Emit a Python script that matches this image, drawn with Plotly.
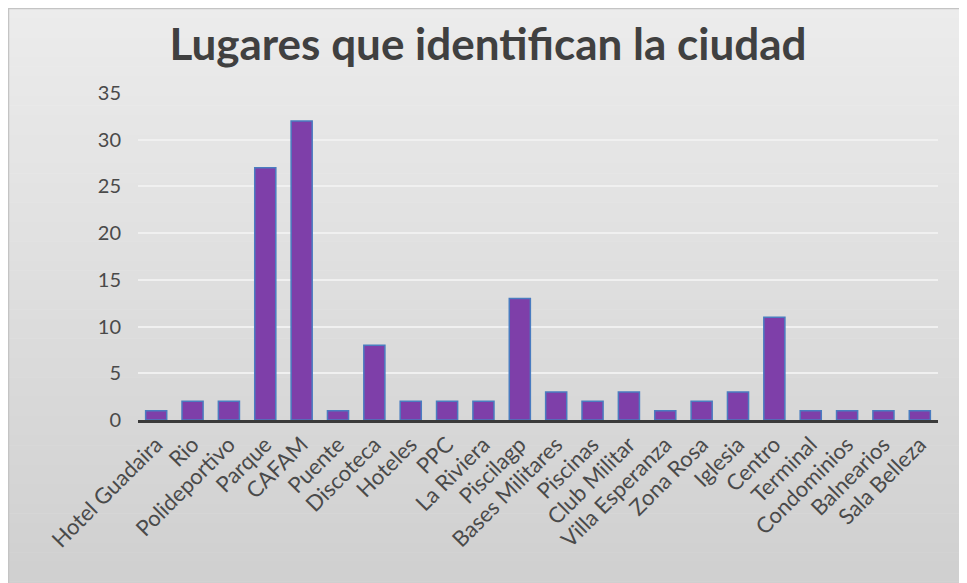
import plotly.graph_objects as go

categories = ["Hotel Guadaira", "Rio", "Polideportivo", "Parque", "CAFAM", "Puente",
              "Discoteca", "Hoteles", "PPC", "La Riviera", "Piscilagp", "Bases Militares",
              "Piscinas", "Club Militar", "Villa Esperanza", "Zona Rosa", "Iglesia", "Centro",
              "Terminal", "Condominios", "Balnearios", "Sala Belleza"]
values = [1, 2, 2, 27, 32, 1, 8, 2, 2, 2, 13, 3, 2, 3, 1, 2, 3, 11, 1, 1, 1, 1]
y_ticks = [0, 5, 10, 15, 20, 25, 30, 35]
title_text = "Lugares que identifican la ciudad"

# page body has an 8px margin, so figure coords = screen coords - 8
W, H = 967, 583
L, R, T, B = 130, 37, 85, 171
pw, ph = W - L - R, H - T - B

def px_to_paper_x(px):
    return (px - L) / pw

def px_to_paper_y(py):
    return (H - B - py) / ph

fig = go.Figure(go.Bar(
    x=categories, y=values,
    marker=dict(color="#7e3fa9", line=dict(color="#4a7cc0", width=1.5)),
))

# gradient background strips
shapes = []
n = 60
top_px, bot_px = 0, H
c_top = (236, 236, 236)
c_bot = (207, 207, 207)
for i in range(n):
    y0p = top_px + (bot_px - top_px) * i / n
    y1p = top_px + (bot_px - top_px) * (i + 1) / n
    t = (i + 0.5) / n
    c = tuple(int(round(c_top[k] + (c_bot[k] - c_top[k]) * t)) for k in range(3))
    shapes.append(dict(type="rect", xref="paper", yref="paper",
                       x0=px_to_paper_x(-2), x1=px_to_paper_x(W + 2),
                       y0=px_to_paper_y(y1p + 0.5), y1=px_to_paper_y(y0p),
                       fillcolor="rgb(%d,%d,%d)" % c, line=dict(width=0), layer="below"))
shapes.append(dict(type="rect", xref="paper", yref="paper",
                   x0=px_to_paper_x(0.5), x1=px_to_paper_x(W + 5),
                   y0=px_to_paper_y(H + 5), y1=px_to_paper_y(0.5),
                   fillcolor="rgba(0,0,0,0)", line=dict(color="#c4c4c4", width=1.5), layer="below"))

fig.update_layout(
    width=W, height=H,
    margin=dict(l=L, r=R, t=T, b=B),
    paper_bgcolor="white",
    plot_bgcolor="rgba(0,0,0,0)",
    bargap=0.42,
    showlegend=False,
    shapes=shapes,
    title=dict(text="<b>" + title_text + "</b>", x=px_to_paper_x(480), xref="paper",
               y=1 - 37 / H, yanchor="middle",
               xanchor="center", font=dict(family="Lato", size=44, color="#404040")),
    font=dict(family="Lato", color="#595959"),
)
fig.update_xaxes(
    tickangle=-45, tickfont=dict(family="Lato", size=22, color="#4a4a4a"),
    showline=True, linecolor="#3a3a3a", linewidth=3, ticks="", showgrid=False,
)
fig.update_yaxes(
    range=[0, 35], tickvals=y_ticks, ticktext=[str(v) for v in y_ticks],
    tickfont=dict(family="Lato", size=20, color="#4a4a4a"),
    showgrid=True, gridcolor="#f0f0f0", gridwidth=1.5, zeroline=False, showline=False,
    ticklabelstandoff=16,
)

fig.write_html("out.html")
